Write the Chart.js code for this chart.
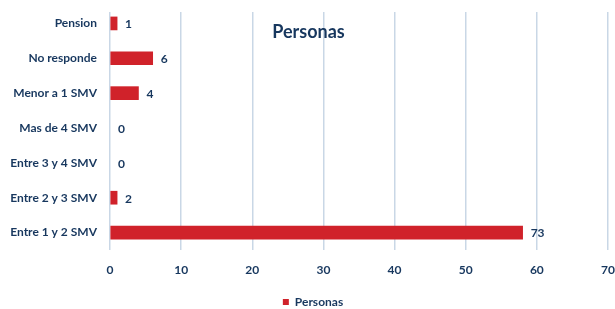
<!DOCTYPE html>
<html>
<head>
<meta charset="utf-8">
<script src="https://cdn.jsdelivr.net/npm/chart.js@4.4.1/dist/chart.umd.min.js"></script>
<style>
  html, body { margin: 0; padding: 0; background: #ffffff; }
  #wrap { width: 615px; height: 309px; position: relative; }
</style>
</head>
<body>
<div id="wrap"><canvas id="c"></canvas></div>
<script>
const categories = ["Pension", "No responde", "Menor a 1 SMV", "Mas de 4 SMV", "Entre 3 y 4 SMV", "Entre 2 y 3 SMV", "Entre 1 y 2 SMV"];
const barValues = [1, 6, 4, 0, 0, 1, 58];
const labelValues = ["1", "6", "4", "0", "0", "2", "73"];
const xTicks = [0, 10, 20, 30, 40, 50, 60, 70];
const seriesName = "Personas";
const titleText = "Personas";

const NAVY = "#17375e";
const RED = "#d0222a";
const FONT = "Lato, 'Open Sans', sans-serif";

const gridTrim = {
  id: "gridTrim",
  afterLayout(chart) {
    if (chart.legend) { chart.legend.left += 9; chart.legend.right += 9; }
  },
  beforeDatasetsDraw(chart) {
    const a = chart.chartArea;
    const ctx = chart.ctx;
    ctx.save();
    ctx.fillStyle = "#ffffff";
    ctx.fillRect(a.left - 2, a.top - 1, a.right - a.left + 4, 7);
    ctx.restore();
  }
};

const dataLabels = {
  id: "dataLabels",
  afterDatasetsDraw(chart) {
    const ctx = chart.ctx;
    const meta = chart.getDatasetMeta(0);
    ctx.save();
    ctx.font = "bold 12px " + FONT;
    ctx.fillStyle = NAVY;
    ctx.textAlign = "left";
    ctx.textBaseline = "middle";
    meta.data.forEach((el, i) => {
      ctx.fillText(labelValues[i], el.x + 8, el.y + 1);
    });
    ctx.restore();
  }
};

const innerTitle = {
  id: "innerTitle",
  afterDraw(chart) {
    const ctx = chart.ctx;
    ctx.save();
    ctx.font = "bold 18px " + FONT;
    ctx.fillStyle = NAVY;
    ctx.textAlign = "center";
    ctx.textBaseline = "middle";
    ctx.fillText(titleText, chart.width / 2 + 1, 32);
    ctx.restore();
  }
};

new Chart(document.getElementById("c"), {
  type: "bar",
  data: {
    labels: categories,
    datasets: [{
      label: seriesName,
      data: barValues,
      backgroundColor: (c) => (c.raw === 0 ? "rgba(0,0,0,0)" : RED),
      borderWidth: 0,
      barThickness: 13
    }]
  },
  options: {
    indexAxis: "y",
    responsive: true,
    maintainAspectRatio: false,
    animation: false,
    layout: { padding: { top: 6, right: 7, left: 0, bottom: -9 } },
    scales: {
      x: {
        min: 0, max: 70,
        afterBuildTicks(s) { s.ticks = xTicks.map(v => ({ value: v })); },
        afterFit(s) { s.paddingRight = 0; s.paddingLeft = 0; s.height = 40; },
        grid: { color: "#c9d7e6", lineWidth: 1.5, drawTicks: false },
        border: { display: false },
        ticks: { color: NAVY, font: { family: FONT, size: 12, weight: "bold" }, padding: 13 }
      },
      y: {
        afterFit(s) { s.width = 110; s.paddingTop = 0; s.paddingBottom = 0; },
        grid: { display: false },
        border: { display: false },
        ticks: { color: NAVY, font: { family: FONT, size: 12, weight: "bold" }, padding: 5 }
      }
    },
    plugins: {
      legend: {
        position: "bottom",
        labels: {
          boxWidth: 6, boxHeight: 6,
          color: NAVY,
          font: { family: FONT, size: 12, weight: "bold" },
          padding: 6,
          generateLabels(chart) {
            return [{
              text: seriesName,
              fillStyle: RED,
              strokeStyle: RED,
              lineWidth: 0,
              fontColor: NAVY,
              datasetIndex: 0,
              hidden: false
            }];
          }
        }
      },
      tooltip: { enabled: false }
    }
  },
  plugins: [gridTrim, dataLabels, innerTitle]
});
</script>
</body>
</html>
